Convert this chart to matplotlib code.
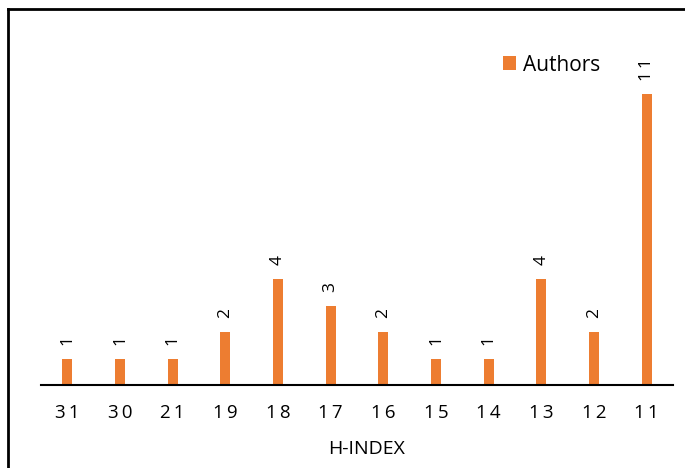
import matplotlib
matplotlib.use("Agg")
import matplotlib.pyplot as plt
from matplotlib.lines import Line2D

plt.rcParams['font.family'] = ['Open Sans', 'DejaVu Sans']

h_index = ['31', '30', '21', '19', '18', '17', '16', '15', '14', '13', '12', '11']
authors = [1, 1, 1, 2, 4, 3, 2, 1, 1, 4, 2, 11]
orange = '#ED7D31'

W, H = 685, 468
fig = plt.figure(figsize=(W / 100, H / 100), dpi=100)
ax = fig.add_axes([41 / W, (H - 385) / H, 632 / W, 317 / H])

x = list(range(len(h_index)))
bars = ax.bar(x, authors, width=0.19, color=orange, label='Authors', zorder=2)
for xi, v in zip(x, authors):
    ax.annotate('\u2009'.join(str(v)), (xi, v), xytext=(0, 10), textcoords='offset points',
                ha='center', va='bottom', rotation=90, fontsize=12.5)

ax.set_xlim(-0.5, len(h_index) - 0.5)
ax.set_ylim(0, 12)
ax.set_xticks(x)
# Excel-style letter spacing on the category labels
ax.set_xticklabels(['\u2009'.join(t) for t in h_index], fontsize=13.5)
ax.tick_params(axis='x', length=0, pad=14)
ax.set_yticks([])
for s in ['top', 'right', 'left']:
    ax.spines[s].set_visible(False)
ax.spines['bottom'].set_linewidth(1.5)
ax.spines['bottom'].set_color('black')
ax.set_xlabel('H-INDEX', fontsize=14)
ax.xaxis.set_label_coords(0.515, -0.172)

fig.legend(handles=[bars], loc='upper left', bbox_to_anchor=(484 / W, 1 - 36 / H),
           frameon=False, fontsize=15, handlelength=0.65, handleheight=0.65,
           handletextpad=0.3)

# outer frame (top and left edges only visible)
fig.add_artist(Line2D([8 / W, 1], [1 - 9 / H, 1 - 9 / H], color='black', lw=2,
                      transform=fig.transFigure))
fig.add_artist(Line2D([8 / W, 8 / W], [0, 1 - 9 / H], color='black', lw=2,
                      transform=fig.transFigure))

fig.savefig('out.png', dpi=100)
